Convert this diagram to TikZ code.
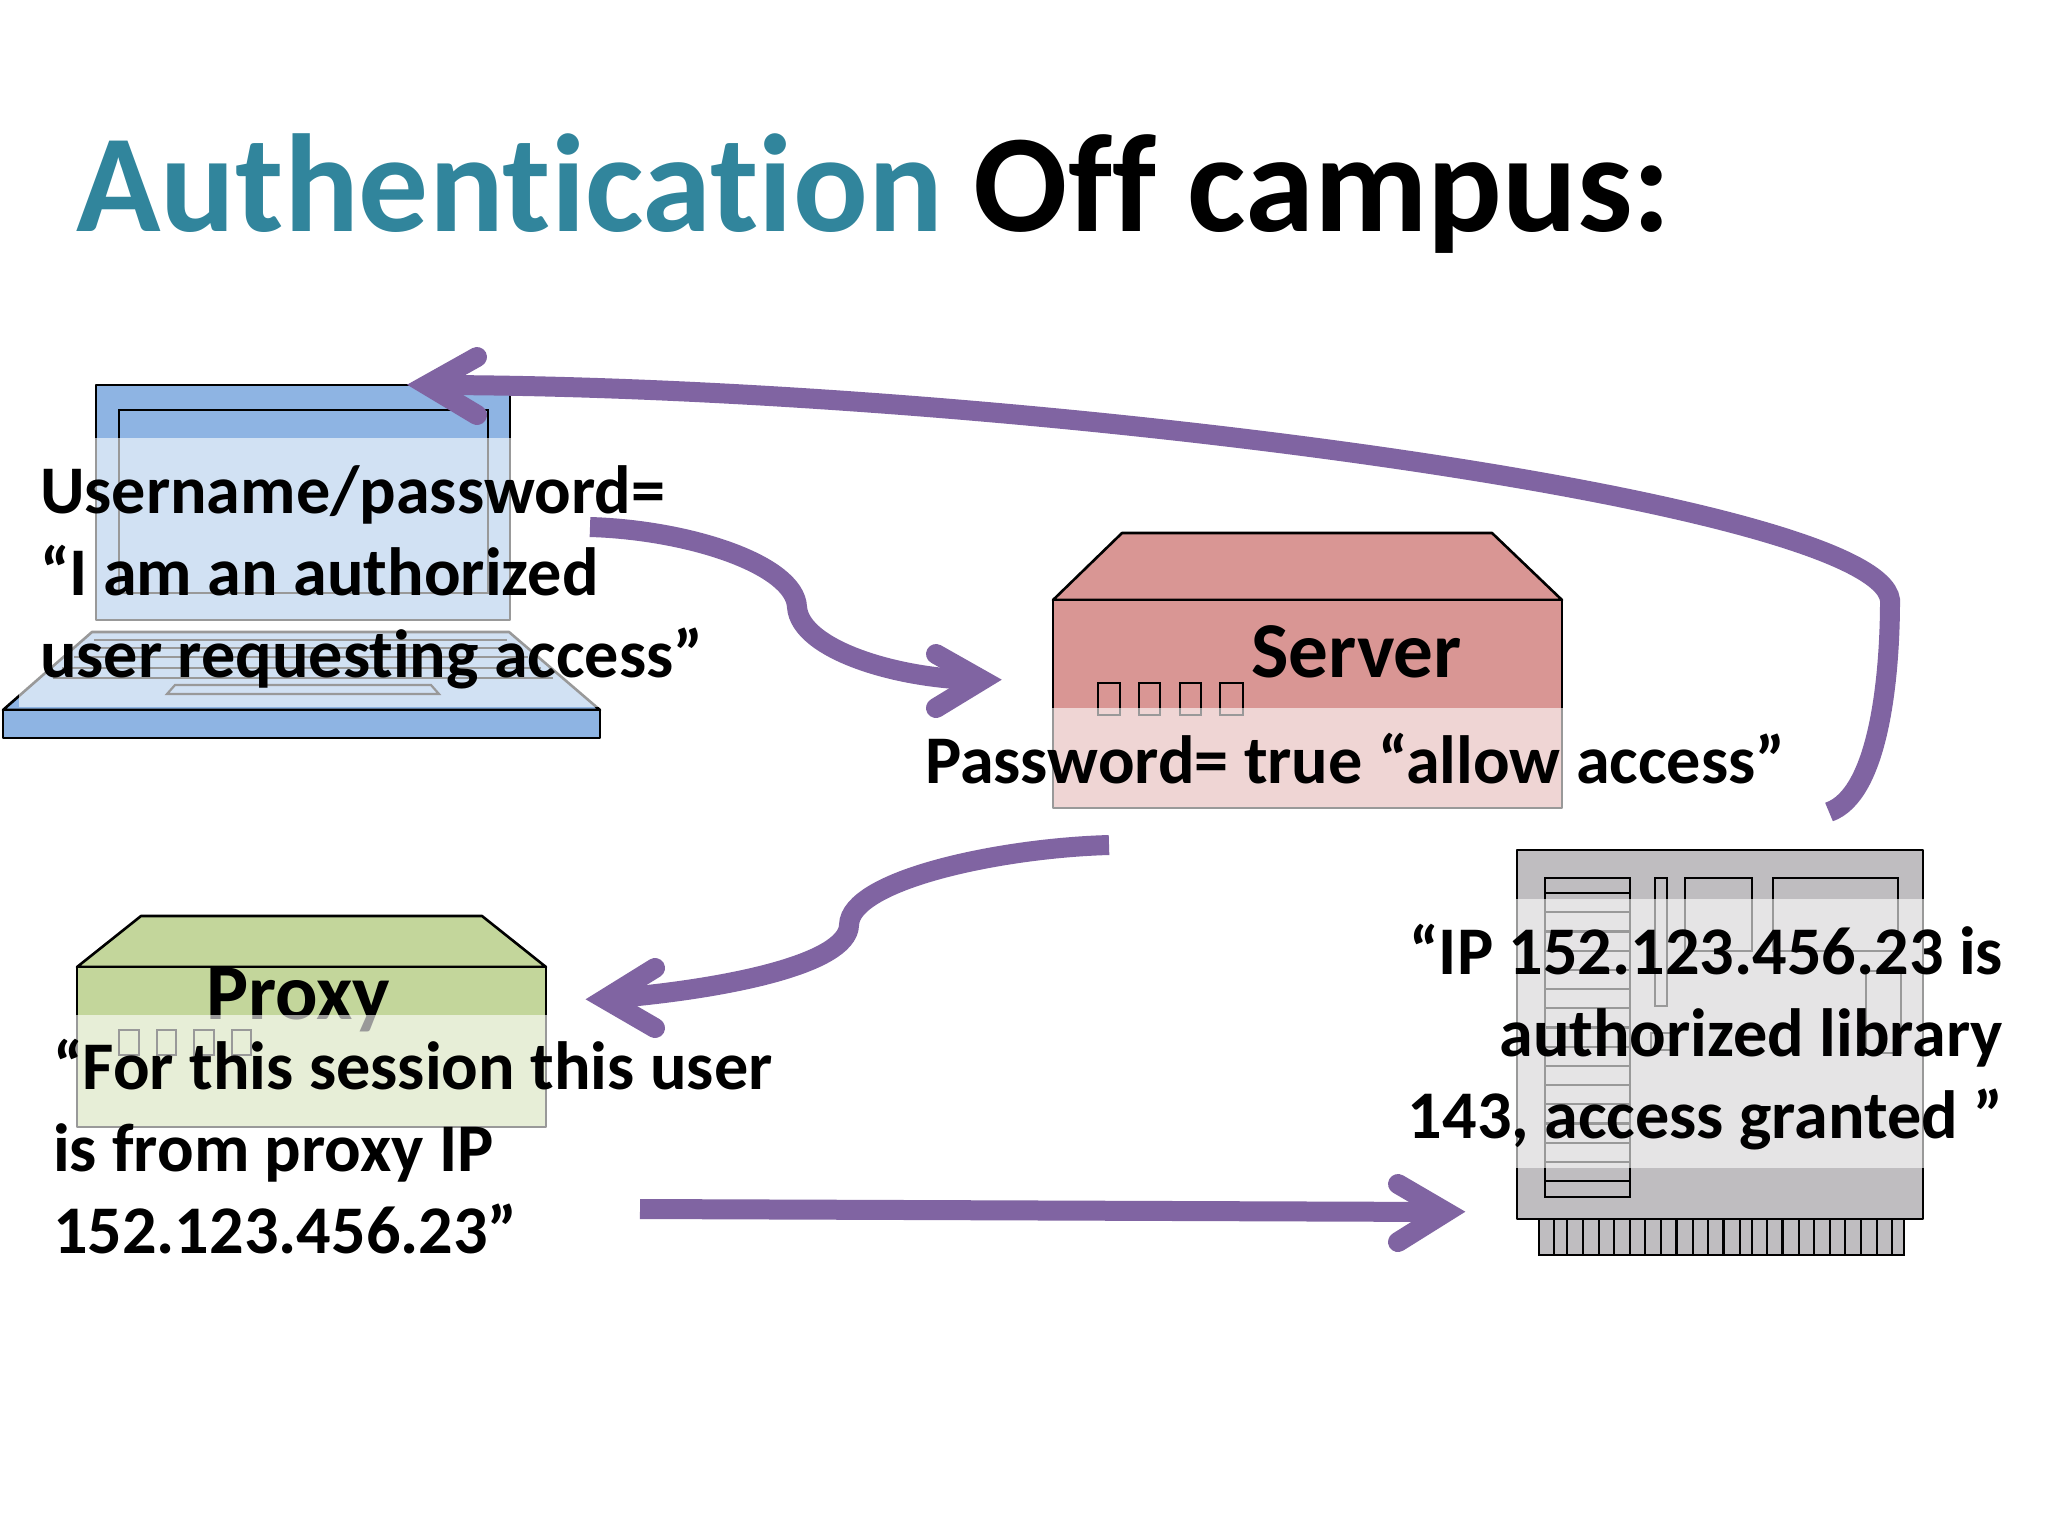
\documentclass[tikz,border=0pt]{standalone}
\usepackage{fontspec}
\setmainfont{Carlito}[Ligatures=NoCommon]
\definecolor{flowc}{HTML}{8064A2}
\definecolor{titlec}{HTML}{31859C}
\definecolor{lapc}{HTML}{8EB4E3}
\definecolor{srvc}{HTML}{D99694}
\definecolor{prxc}{HTML}{C3D69B}
\definecolor{brdc}{HTML}{BFBDC0}
\tikzset{
  part/.style={draw=black,line width=1.3pt,line join=round},
  thin part/.style={draw=black,line width=1.1pt},
  veil/.style={fill=white,fill opacity=0.6},
  flow/.style={draw=flowc,line width=10pt,line cap=butt},
  flowhead/.style={draw=flowc,line width=10pt,line cap=round,line join=miter,miter limit=10},
  label/.style={inner sep=0pt,outer sep=0pt,font=\fontsize{34.1}{41}\selectfont\bfseries,anchor=base west},
  bignm/.style={inner sep=0pt,outer sep=0pt,font=\fontsize{39.6}{41}\selectfont\bfseries,anchor=base west}
}
\begin{document}
\begin{tikzpicture}[x=0.5pt,y=-0.5pt]
\useasboundingbox (0,0) rectangle (2048,1536);
\fill[white] (0,0) rectangle (2048,1536);
% title
\node[inner sep=0pt,anchor=base west,font=\fontsize{69.7}{72}\selectfont\bfseries] (title) at (76,231) {\textcolor{titlec}{Authentication} Off campus:};
% laptop
\filldraw[part,fill=lapc] (96,385) rectangle (510,620);
\draw[thin part] (119,410) rectangle (488,593);
\filldraw[part,fill=lapc] (92,632) -- (509,632) -- (600,710) -- (3,710) -- cycle;
\foreach \yy/\xa/\xb in {640/94/507,648/84/518,657/74/528,668/62/541,678/53/553}
  \draw[thin part] (\xa,\yy) -- (\xb,\yy);
\draw[thin part] (175,685) -- (431,685) -- (439,694) -- (167,694) -- cycle;
\fill[veil] (19,438) rectangle (720,707);
\filldraw[part,fill=lapc] (3,710) rectangle (600,738);
% server
\filldraw[part,fill=srvc] (1122,533) -- (1492,533) -- (1562,600) -- (1053,600) -- cycle;
\filldraw[part,fill=srvc] (1053,600) rectangle (1562,808);
\foreach \xa/\xb in {1098/1120,1139/1160,1180/1201,1220/1243}
  \draw[thin part] (\xa,683) rectangle (\xb,715);
\fill[veil] (920,708) rectangle (1800,820);
\node[bignm] (servername) at (1251,677) {Server};
% proxy
\filldraw[part,fill=prxc] (141,916) -- (482,916) -- (546,967) -- (77,967) -- cycle;
\filldraw[part,fill=prxc] (77,967) rectangle (546,1127);
\foreach \xa/\xb in {119/139,157/176,194/214,232/251}
  \draw[thin part] (\xa,1030) rectangle (\xb,1055);
\node[bignm] (proxyname) at (206,1019) {Proxy};
\fill[veil] (40,1015) rectangle (790,1135);
% board
\filldraw[part,fill=brdc] (1517,850) rectangle (1923,1219);
\draw[thin part] (1545,878) rectangle (1630,1197);
\foreach \k in {0,...,15} \draw[thin part] (1545,893+19.2*\k) -- (1630,893+19.2*\k);
\draw[thin part] (1655,878) rectangle (1667,1006);
\draw[thin part] (1685,878) rectangle (1752,951);
\draw[thin part] (1773,878) rectangle (1898,951);
\draw[thin part] (1866,971) rectangle (1901,1053);
\draw[thin part] (1651,1033) rectangle (1671,1050);
\fill[veil] (1400,899) rectangle (2040,1168);
\filldraw[thin part,fill=brdc] (1539,1219) rectangle (1904,1255);
\foreach \px in {205,240,285,328,370,413,455,500,542,587,630,672,717,750,793,835,880,922,965,1008,1052,1095,1137}
  \draw[thin part] ({1480+\px/2.76},1219) -- ({1480+\px/2.76},1255);
% texts
\node[label,align=left] (usertext) at (40,677) {Username/password=\\“I am an authorized\\user requesting access”};
\node[label] (srvtext) at (925,783) {Password= true “allow access”};
\node[label,align=left] (prxtext) at (53,1253) {“For this session this user\\is from proxy IP\\152.123.456.23”};
\node[label,align=right,anchor=base east] (brdtext) at (2003,1138) {“IP 152.123.456.23 is\\authorized library\\143, access granted ”};
% connector ends
\coordinate (a1s) at (590,527);
\coordinate (a1m) at (797,607);
\coordinate (a1t) at (982,680);
\coordinate (a2t) at (427,385);
\coordinate (a2m) at (1890,600);
\coordinate (a2s) at (1829,812);
\coordinate (a3s) at (1109,845);
\coordinate (a3m) at (849,925);
\coordinate (a3t) at (605,999);
\coordinate (a4s) at (640,1209);
\coordinate (a4t) at (1446,1212);
% connectors
\draw[flow] (a1s) .. controls (690,530) and (795,565) .. (a1m) .. controls (800,650) and (900,680) .. (a1t);
\draw[flowhead] (936,654) -- (a1t) -- (936,708);
\draw[flow] (a2s) .. controls (1878,795) and (1890,680) .. (a2m) .. controls (1878,500) and (1000,385) .. (a2t);
\draw[flowhead] (477,357) -- (a2t) -- (477,415);
\draw[flow] (a3s) .. controls (1000,848) and (850,880) .. (a3m) .. controls (848,965) and (720,990) .. (a3t);
\draw[flowhead] (655,968) -- (a3t) -- (655,1028);
\draw[flow] (a4s) -- (a4t);
\draw[flowhead] (1398,1184) -- (a4t) -- (1398,1242);
\end{tikzpicture}
\end{document}
